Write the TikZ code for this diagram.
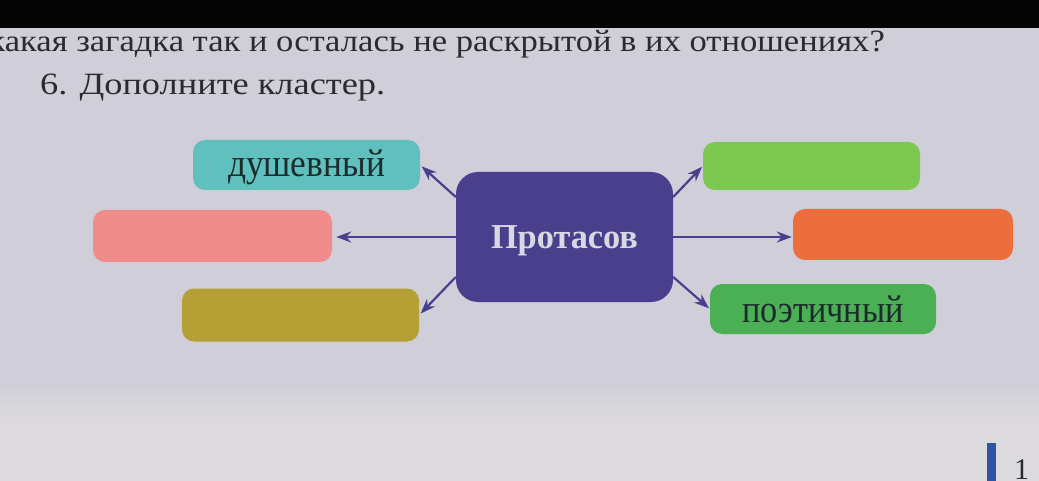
\documentclass[tikz,border=0pt]{standalone}
\usepackage{fontspec}
\setmainfont{Liberation Serif}
\usepackage{graphicx}
\usetikzlibrary{arrows.meta,calc}
\newdimen\fitlen
\newcommand{\fitto}[3]{\settowidth{\fitlen}{#2}\scalebox{\fpeval{#1/\fitlen}}[1]{#3}}
\definecolor{pagebg}{HTML}{D0CFD9}
\definecolor{pagelow}{HTML}{DCDADD}
\definecolor{inkc}{HTML}{2A2A33}
\definecolor{boxink}{HTML}{1E2A2C}
\definecolor{tealc}{HTML}{5FC0BE}
\definecolor{pinkc}{HTML}{F08C8C}
\definecolor{olivec}{HTML}{B4A034}
\definecolor{centerc}{HTML}{4A3F8C}
\definecolor{lgreenc}{HTML}{7DC850}
\definecolor{orangec}{HTML}{EB6E3C}
\definecolor{greenc}{HTML}{4BAF55}
\definecolor{arrowc}{HTML}{4A3F8C}
\definecolor{bluebar}{HTML}{2C55A8}
\definecolor{protink}{HTML}{D8D8E2}
\begin{document}
\begin{tikzpicture}[x=1pt,y=-1pt,
  box/.style={rounded corners=12pt, inner sep=0pt, anchor=center, text=boxink},
  conn/.style={draw=arrowc, line width=2.2pt, -{Stealth[length=15pt,width=11pt]}},
  headtext/.style={text=inkc, inner sep=0pt, font=\fontsize{31}{31}\selectfont}]
\useasboundingbox (0,0) rectangle (1039,481);
\clip (0,0) rectangle (1039,481);
% page
\fill[pagebg] (0,0) rectangle (1039,481);
\shade[top color=pagebg, bottom color=pagelow] (0,385) rectangle (1039,420);
\fill[pagelow] (0,420) rectangle (1039,481);
\fill[black!98] (0,0) rectangle (1039,28);
% heading lines
\node[headtext, anchor=base east] (l1) at (885,52)
  {\fitto{880}{акая загадка так и осталась не раскрытой в их отношениях?}{какая загадка так и осталась не раскрытой в их отношениях?}};
\node[headtext, anchor=base west] (l2) at (40,95)
  {\fitto{345}{6. Дополните кластер.}{6. Дополните кластер.}};
% boxes
\node[box, fill=tealc, minimum width=227pt, minimum height=50pt, text height=24pt, text depth=0pt] (dush) at (306.5,165)
  {\fontsize{39}{39}\selectfont\fitto{157}{душевный}{душевный}};
\node[box, fill=pinkc, minimum width=239pt, minimum height=52pt] (pink) at (212.5,236) {};
\node[box, fill=olivec, minimum width=237pt, minimum height=53pt] (olive) at (300.5,315) {};
\node[box, fill=centerc, rounded corners=22pt, minimum width=217pt, minimum height=130pt, text height=22pt, text depth=0pt, text=protink] (prot) at (564.5,237)
  {\fontsize{35}{35}\selectfont\bfseries\fitto{147}{Протасов}{Протасов}};
\node[box, fill=lgreenc, minimum width=217pt, minimum height=48pt] (lgreen) at (811.5,166) {};
\node[box, fill=orangec, minimum width=220pt, minimum height=51pt] (orange) at (903,234.5) {};
\node[box, fill=greenc, minimum width=226pt, minimum height=50pt, text height=27pt, text depth=0pt] (poet) at (823,309)
  {\fontsize{39}{39}\selectfont\fitto{161}{поэтичный}{поэтичный}};
% connectors
\draw[conn, shorten >=2pt] ([yshift=40pt]prot.west) -- (dush.east);
\draw[conn, shorten >=4pt] (prot.west) -- (prot.west -| pink.east);
\draw[conn, shorten >=2pt] ([yshift=-40pt]prot.west) -- (olive.east);
\draw[conn, shorten >=1pt] ([yshift=40pt]prot.east) -- (lgreen.west);
\draw[conn, shorten >=1pt] (prot.east) -- (prot.east -| orange.west);
\draw[conn, shorten >=1pt] ([yshift=-40pt]prot.east) -- (poet.west);
% page number
\fill[bluebar] (987,443) rectangle (996,481);
\node[anchor=base west, inner sep=0pt, text=inkc, font=\fontsize{30}{30}\selectfont] (pnum) at (1014,479) {1};
\end{tikzpicture}
\end{document}
